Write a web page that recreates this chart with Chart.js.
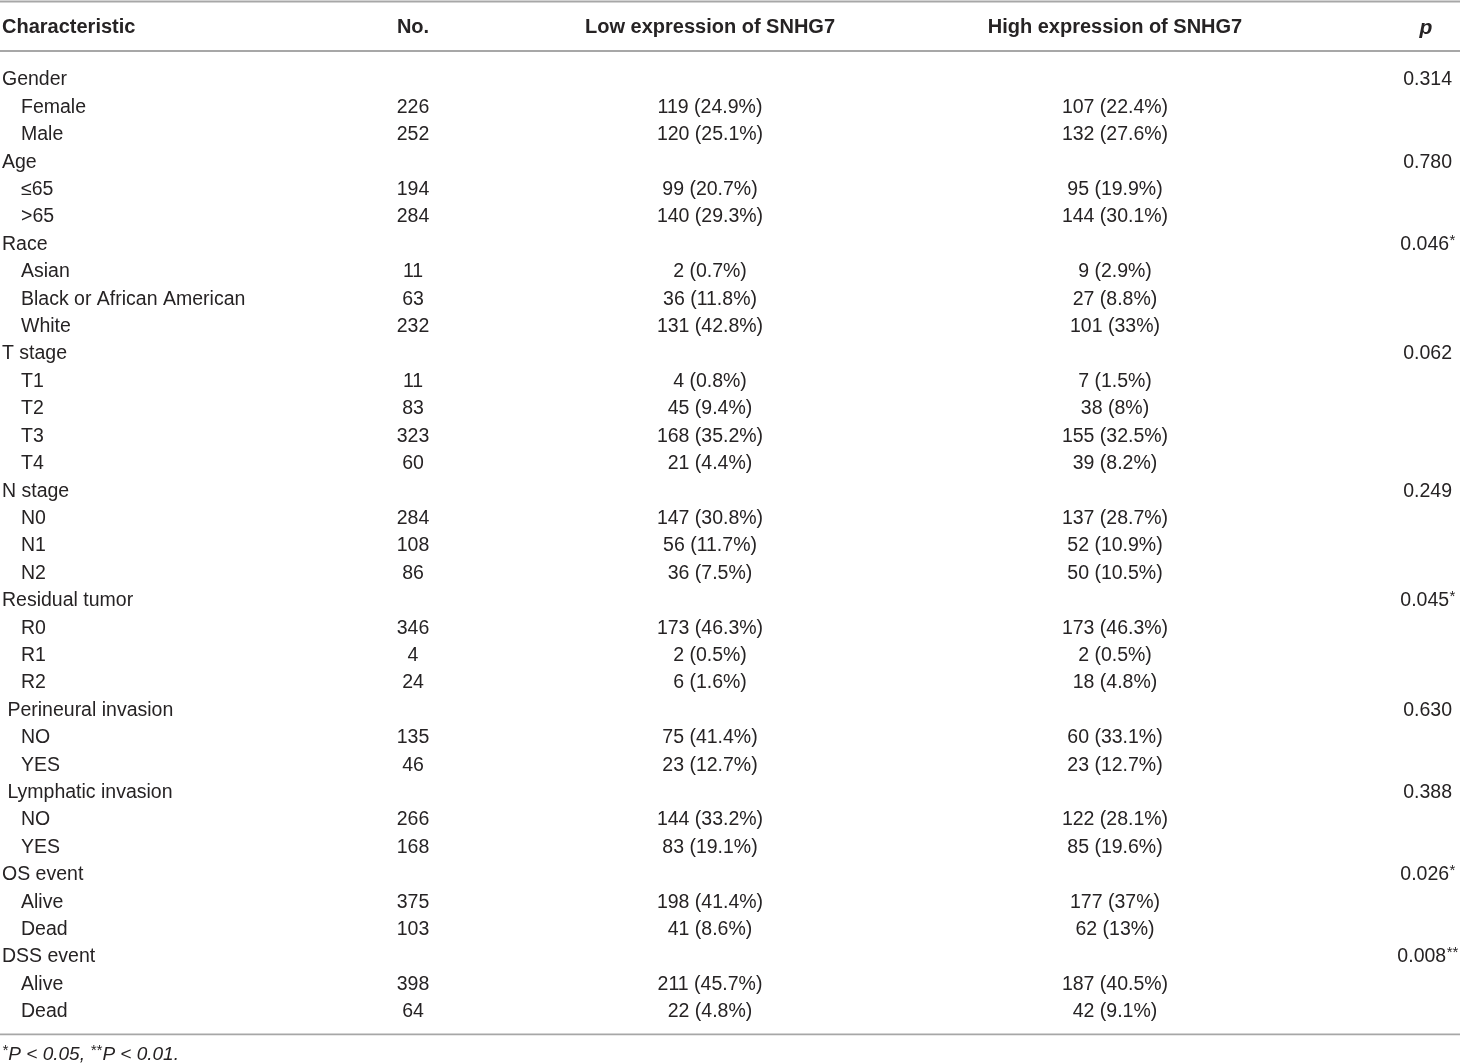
<!DOCTYPE html>
<html>
<head>
<meta charset="utf-8">
<script src="https://cdn.jsdelivr.net/npm/chart.js@4/dist/chart.umd.min.js"></script>
<style>
  html, body { margin: 0; padding: 0; background: #fff; }
  #wrap { width: 1460px; height: 1064px; }
</style>
</head>
<body>
<div id="wrap"><canvas id="myChart" width="1460" height="1064"></canvas></div>
<script>
// table content
const headers = ['Characteristic', 'No.', 'Low expression of SNHG7', 'High expression of SNHG7', 'p'];

const rowLabels = [
  'Gender', 'Female', 'Male',
  'Age', '≤65', '>65',
  'Race', 'Asian', 'Black or African American', 'White',
  'T stage', 'T1', 'T2', 'T3', 'T4',
  'N stage', 'N0', 'N1', 'N2',
  'Residual tumor', 'R0', 'R1', 'R2',
  ' Perineural invasion', 'NO', 'YES',
  ' Lymphatic invasion', 'NO', 'YES',
  'OS event', 'Alive', 'Dead',
  'DSS event', 'Alive', 'Dead'
];

// 0 = group row, 1 = sub row
const rowLevel = [
  0, 1, 1,
  0, 1, 1,
  0, 1, 1, 1,
  0, 1, 1, 1, 1,
  0, 1, 1, 1,
  0, 1, 1, 1,
  0, 1, 1,
  0, 1, 1,
  0, 1, 1,
  0, 1, 1
];

const counts = [
  '', '226', '252',
  '', '194', '284',
  '', '11', '63', '232',
  '', '11', '83', '323', '60',
  '', '284', '108', '86',
  '', '346', '4', '24',
  '', '135', '46',
  '', '266', '168',
  '', '375', '103',
  '', '398', '64'
];

const lowExpr = [
  '', '119 (24.9%)', '120 (25.1%)',
  '', '99 (20.7%)', '140 (29.3%)',
  '', '2 (0.7%)', '36 (11.8%)', '131 (42.8%)',
  '', '4 (0.8%)', '45 (9.4%)', '168 (35.2%)', '21 (4.4%)',
  '', '147 (30.8%)', '56 (11.7%)', '36 (7.5%)',
  '', '173 (46.3%)', '2 (0.5%)', '6 (1.6%)',
  '', '75 (41.4%)', '23 (12.7%)',
  '', '144 (33.2%)', '83 (19.1%)',
  '', '198 (41.4%)', '41 (8.6%)',
  '', '211 (45.7%)', '22 (4.8%)'
];

const highExpr = [
  '', '107 (22.4%)', '132 (27.6%)',
  '', '95 (19.9%)', '144 (30.1%)',
  '', '9 (2.9%)', '27 (8.8%)', '101 (33%)',
  '', '7 (1.5%)', '38 (8%)', '155 (32.5%)', '39 (8.2%)',
  '', '137 (28.7%)', '52 (10.9%)', '50 (10.5%)',
  '', '173 (46.3%)', '2 (0.5%)', '18 (4.8%)',
  '', '60 (33.1%)', '23 (12.7%)',
  '', '122 (28.1%)', '85 (19.6%)',
  '', '177 (37%)', '62 (13%)',
  '', '187 (40.5%)', '42 (9.1%)'
];

const pValues = [
  '0.314', '', '',
  '0.780', '', '',
  '0.046', '', '', '',
  '0.062', '', '', '', '',
  '0.249', '', '', '',
  '0.045', '', '', '',
  '0.630', '', '',
  '0.388', '', '',
  '0.026', '', '',
  '0.008', '', ''
];

const pStars = [
  '', '', '',
  '', '', '',
  '*', '', '', '',
  '', '', '', '', '',
  '', '', '', '',
  '*', '', '', '',
  '', '', '',
  '', '', '',
  '*', '', '',
  '**', '', ''
];

const footnote = [['*', 'P < 0.05, '], ['**', 'P < 0.01.']];

// layout (pixels along x, row units along y)
const layout = {
  rowTop: 77.5,
  rowStep: 27.41,
  colX: [2, 413, 710, 1115, 1452],
  subIndent: 19,
  headerRow: -1.90,
  headerPX: 1426,
  rules: [-2.77, -0.97, 34.91],
  footRow: 35.56,
  textShift: 2.5
};

const font = '"Liberation Sans", Arial, sans-serif';
const ink = '#262324';

const tablePlugin = {
  id: 'tablePlugin',
  afterDraw(chart) {
    const ctx = chart.ctx;
    const xs = chart.scales.x;
    const ys = chart.scales.y;
    const area = chart.chartArea;
    const cx = layout.colX.map(v => xs.getPixelForValue(v));
    const rowY = r => ys.getPixelForValue(r) + layout.textShift;
    ctx.save();

    // horizontal rules
    ctx.strokeStyle = '#a7a7a7';
    layout.rules.forEach((r, i) => {
      const y = ys.getPixelForValue(r);
      ctx.lineWidth = i === 2 ? 1.6 : 2;
      ctx.beginPath();
      ctx.moveTo(area.left, y);
      ctx.lineTo(area.right, y);
      ctx.stroke();
    });

    ctx.fillStyle = ink;
    ctx.textBaseline = 'middle';

    // header
    const hy = rowY(layout.headerRow);
    ctx.font = 'bold 20px ' + font;
    ctx.textAlign = 'left';
    ctx.fillText(headers[0], cx[0], hy);
    ctx.textAlign = 'center';
    ctx.fillText(headers[1], cx[1], hy);
    ctx.fillText(headers[2], cx[2], hy);
    ctx.fillText(headers[3], cx[3], hy);
    ctx.font = 'italic bold 21px ' + font;
    ctx.fillText(headers[4], xs.getPixelForValue(layout.headerPX), hy);

    // body rows
    rowLabels.forEach((label, i) => {
      const y = rowY(i);
      ctx.font = '19.5px ' + font;
      ctx.textAlign = 'left';
      ctx.fillText(label, cx[0] + (rowLevel[i] ? layout.subIndent : 0), y);
      ctx.textAlign = 'center';
      if (counts[i]) ctx.fillText(counts[i], cx[1], y);
      if (lowExpr[i]) ctx.fillText(lowExpr[i], cx[2], y);
      if (highExpr[i]) ctx.fillText(highExpr[i], cx[3], y);
      if (pValues[i]) {
        let starW = 0;
        if (pStars[i]) {
          ctx.font = '15px ' + font;
          starW = ctx.measureText(pStars[i]).width;
        }
        const right = cx[4] - starW * 0.5;
        ctx.font = '19.5px ' + font;
        ctx.textAlign = 'right';
        ctx.fillText(pValues[i], right, y);
        if (pStars[i]) {
          ctx.font = '15px ' + font;
          ctx.textAlign = 'left';
          ctx.fillText(pStars[i], right + 0.5, y - 4);
        }
      }
    });

    // footnote
    const fy = rowY(layout.footRow);
    let fx = cx[0];
    ctx.textAlign = 'left';
    footnote.forEach(([stars, txt]) => {
      ctx.font = 'italic 15px ' + font;
      ctx.fillText(stars, fx, fy - 4);
      fx += ctx.measureText(stars).width + 0.5;
      ctx.font = 'italic 19px ' + font;
      ctx.fillText(txt, fx, fy);
      fx += ctx.measureText(txt).width;
    });

    ctx.restore();
  }
};

const yMin = -layout.rowTop / layout.rowStep;
const yMax = (1064 - layout.rowTop) / layout.rowStep;

let ctx = document.getElementById('myChart').getContext('2d');
let chart = new Chart(ctx, {
  type: 'scatter',
  data: {
    datasets: [{
      label: 'No.',
      data: counts.map((c, i) => ({ x: layout.colX[1], y: i })).filter((p, i) => counts[i] !== ''),
      pointRadius: 0,
      pointHoverRadius: 0
    }]
  },
  options: {
    responsive: false,
    animation: false,
    devicePixelRatio: 1,
    layout: { padding: 0 },
    plugins: {
      legend: { display: false },
      tooltip: { enabled: false }
    },
    scales: {
      x: { type: 'linear', min: 0, max: 1460, display: false },
      y: { type: 'linear', min: yMin, max: yMax, reverse: true, display: false }
    }
  },
  plugins: [tablePlugin]
});
</script>
</body>
</html>
